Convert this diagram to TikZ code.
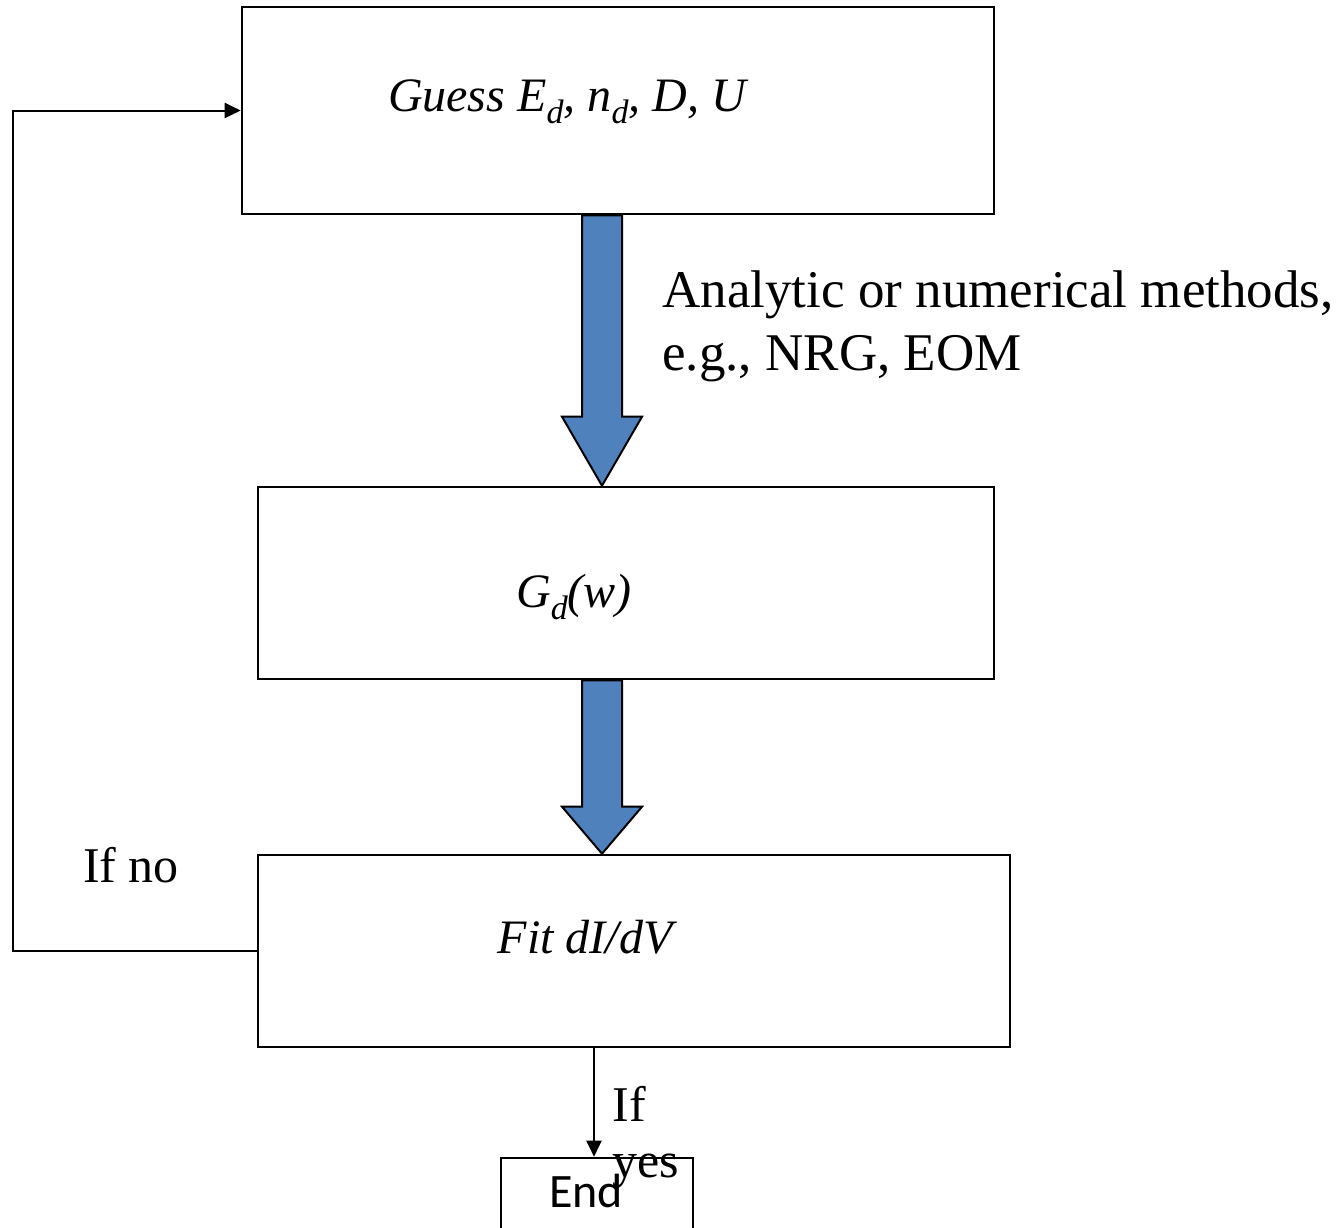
\documentclass[tikz,border=0pt]{standalone}
\usepackage{fontspec}
\setmainfont{Liberation Serif}
\newfontfamily\endfont{Carlito}
\usetikzlibrary{calc,arrows.meta}
\definecolor{flowblue}{HTML}{4F81BD}
\newcommand\lowsub[1]{\raisebox{-0.55ex}{\fontsize{17}{17}\selectfont #1}}
\begin{document}
\begin{tikzpicture}[x=0.5pt,y=-0.5pt,
  box/.style={draw, line width=1.3pt, inner sep=0pt},
  boxtext/.style={font=\fontsize{24}{28}\selectfont\itshape, inner sep=0pt},
  note/.style={font=\fontsize{25}{31}\selectfont, inner sep=0pt},
  flow/.style={fill=flowblue, draw=black, line width=1pt, line join=miter},
  link/.style={line width=1pt, -{Triangle[length=8pt,width=7.5pt]}}]
\clip (0,0) rectangle (1339,1227);
\fill[white] (0,0) rectangle (1339,1227);

% process boxes
\node[box, minimum width=376pt, minimum height=103.5pt] (guess) at (618,110.5) {};
\node[box, minimum width=368pt, minimum height=96pt] (gd) at (626,583) {};
\node[box, minimum width=376pt, minimum height=96pt] (fit) at (634,951) {};
\node[box, minimum width=96pt, minimum height=60pt] (endb) at (597,1218) {};

% box texts
\node[boxtext] (tguess) at (567,102) {Guess E\lowsub{d}, n\lowsub{d}, D, U};
\node[boxtext] (tgd) at (574,597) {G\lowsub{d}(w)};
\node[boxtext] (tfit) at (585,937) {Fit dI/dV};
\node[font=\endfont\fontsize{24}{28}\selectfont, inner sep=0pt] (tend) at (586,1191) {End};

% block arrows between the boxes
\coordinate (ax) at (602,0);
\draw[flow] ($(guess.south -| ax)+(-20,0)$) -- ($(guess.south -| ax)+(20,0)$)
  -- ($(gd.north -| ax)+(20,-69)$) -- ($(gd.north -| ax)+(40,-69)$)
  -- (gd.north -| ax) -- ($(gd.north -| ax)+(-40,-69)$)
  -- ($(gd.north -| ax)+(-20,-69)$) -- cycle;
\draw[flow] ($(gd.south -| ax)+(-20,0)$) -- ($(gd.south -| ax)+(20,0)$)
  -- ($(fit.north -| ax)+(20,-47)$) -- ($(fit.north -| ax)+(40,-47)$)
  -- (fit.north -| ax) -- ($(fit.north -| ax)+(-40,-47)$)
  -- ($(fit.north -| ax)+(-20,-47)$) -- cycle;

% method label
\node[font=\fontsize{26.5}{31.5}\selectfont, inner sep=0pt, anchor=north west, align=left]
  (method) at (662,270) {Analytic or numerical methods,\\e.g., NRG, EOM};

% feedback loop
\coordinate (loopx) at (13,0);
\draw[link] (fit.west) -- (fit.west -| loopx) -- (guess.west -| loopx) -- (guess.west);
\node[note] (ifno) at (131,865) {If no};

% exit to end
\coordinate (exitx) at (594,0);
\draw[link] (fit.south -| exitx) -- (endb.north -| exitx);
\node[note] (ifl) at (629,1104) {If};
\node[note] (yesl) at (646,1171) {yes};
\end{tikzpicture}
\end{document}
